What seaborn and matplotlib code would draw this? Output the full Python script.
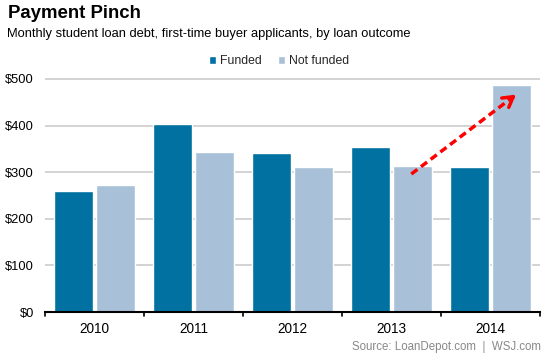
import matplotlib
matplotlib.use("Agg")
import matplotlib.pyplot as plt
import seaborn as sns
import pandas as pd

years = ["2010", "2011", "2012", "2013", "2014"]
funded = [260, 403, 342, 355, 312]
not_funded = [273, 343, 311, 314, 488]
series_names = ["Funded", "Not funded"]
yticks = [0, 100, 200, 300, 400, 500]
ytick_labels = ["$0", "$100", "$200", "$300", "$400", "$500"]

df = pd.DataFrame({
    "year": years * 2,
    "value": funded + not_funded,
    "outcome": [series_names[0]] * len(years) + [series_names[1]] * len(years),
})

sns.set_theme(style="white")
plt.rcParams["font.family"] = ["Liberation Sans", "DejaVu Sans"]

fig = plt.figure(figsize=(5.44, 3.56), dpi=100)
ax = fig.add_axes([45 / 544, 1 - 312 / 356, 495 / 544, (312 - 74.3) / 356])

palette = {"Funded": "#0071a0", "Not funded": "#a9c1d8"}
sns.barplot(data=df, x="year", y="value", hue="outcome", palette=palette,
            width=0.84, gap=0.07, ax=ax, saturation=1, legend=True, zorder=3)

ax.set_ylim(0, 510)
ax.set_xlim(-0.5, len(years) - 0.5)
ax.set_yticks(yticks)
ax.set_yticklabels(ytick_labels)
ax.yaxis.grid(True, color="#cccccc", linewidth=1.2, zorder=0)
ax.set_axisbelow(True)
ax.set_xlabel("")
ax.set_ylabel("")
for s in ["top", "right", "left"]:
    ax.spines[s].set_visible(False)
ax.spines["bottom"].set_color("black")
ax.spines["bottom"].set_linewidth(1.5)
ax.spines["bottom"].set_zorder(5)

ax.set_xticks(range(len(years)))
ax.set_xticklabels(years)
ax.tick_params(axis="x", length=0, labelsize=9.8, pad=7.5, colors="black")
ax.tick_params(axis="y", length=0, labelsize=9.3, pad=8, colors="black")
for b in [i - 0.5 for i in range(len(years) + 1)]:
    ax.plot([b, b], [0, -8], color="black", lw=1.2, clip_on=False, zorder=6)

# legend
h, l = ax.get_legend_handles_labels()
ax.legend(h, l, loc="center", bbox_to_anchor=(279 / 544, 1 - 61 / 356),
          bbox_transform=fig.transFigure, ncol=2, frameon=False,
          fontsize=8.8, handlelength=0.6, handleheight=0.6,
          handletextpad=0.3, columnspacing=1.3)

# arrow annotation
x0, y0 = 3.2, 296
x1, y1 = 4.28, 470
ax.plot([x0, x1 - 0.04], [y0, y1 - 6.5], color="#ff0000", lw=2.5,
        linestyle=(0, (2.2, 1.3)), zorder=7, solid_capstyle="butt")
ax.annotate("", xy=(x1, y1), xytext=(x1 - 0.1, y1 - 16),
            arrowprops=dict(arrowstyle="->,head_length=0.6,head_width=0.35",
                            color="#ff0000", lw=2.5), zorder=8)

fig.text(8 / 544, 1 - 14 / 356, "Payment Pinch", fontsize=13.4, fontweight="bold",
         va="center", ha="left", color="black")
fig.text(7 / 544, 1 - 34 / 356,
         "Monthly student loan debt, first-time buyer applicants, by loan outcome",
         fontsize=9.3, va="center", ha="left", color="black")
fig.text(541 / 544, 1 - 347 / 356, "Source: LoanDepot.com  |  WSJ.com",
         fontsize=8.3, va="center", ha="right", color="#888888")

fig.savefig("out.png", dpi=100)
